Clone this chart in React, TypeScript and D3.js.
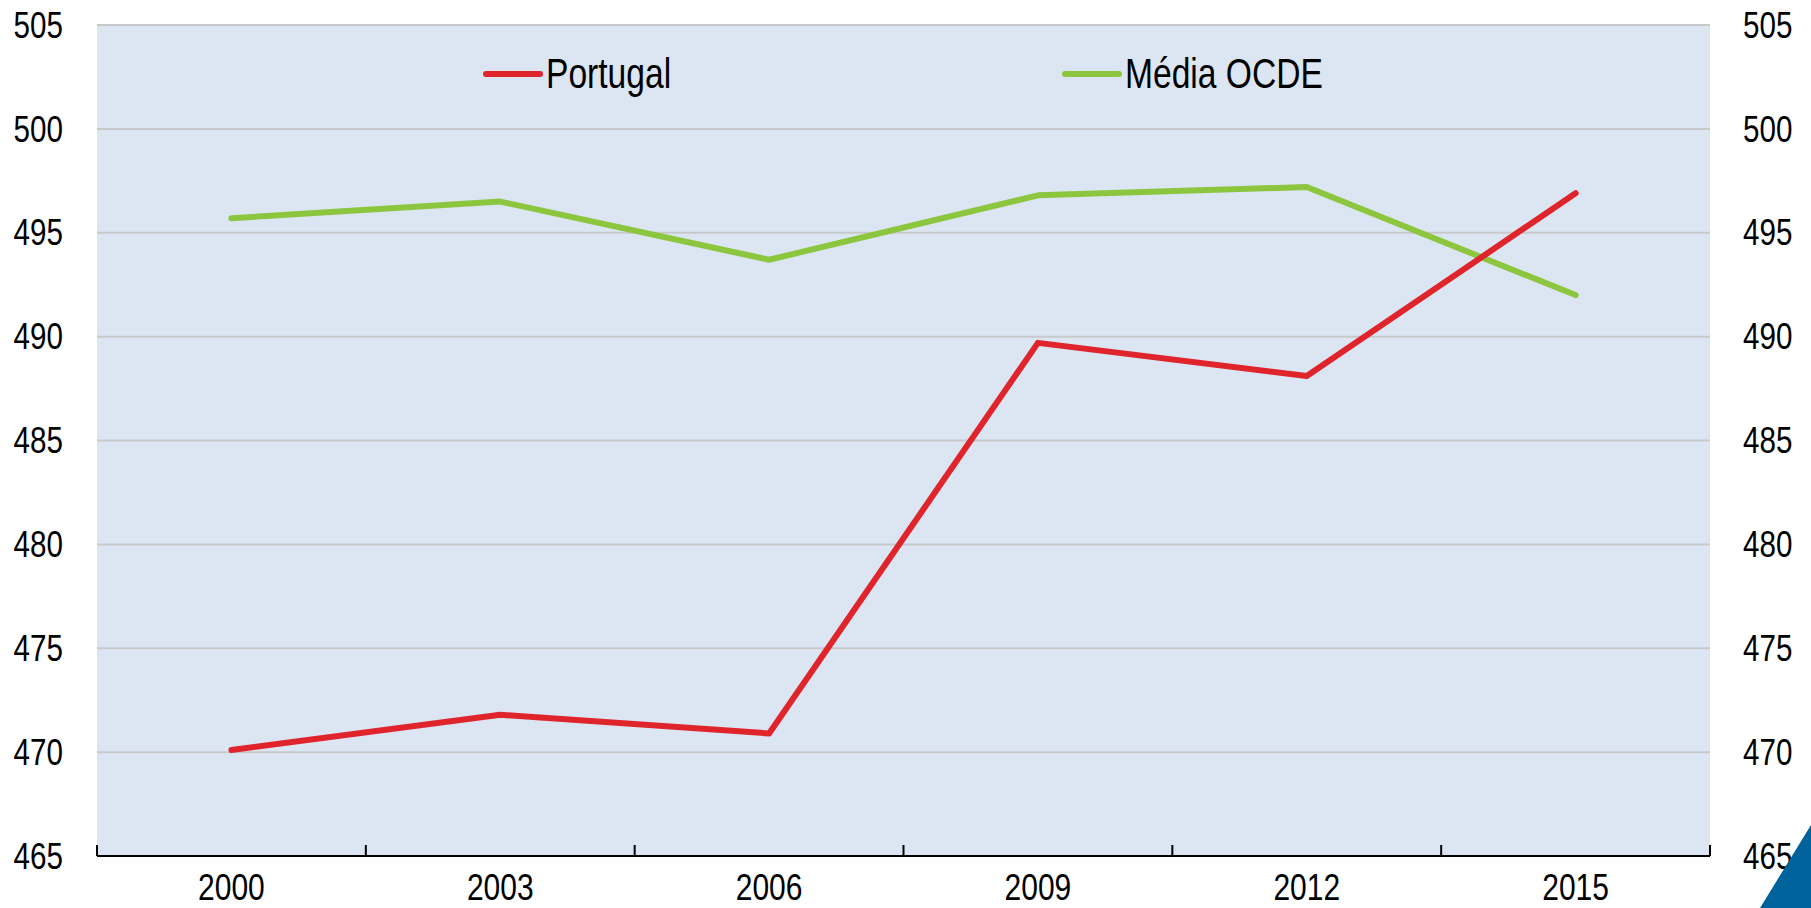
import React from "react";
import * as d3 from "d3";

// --- Data ---
const YEARS = ["2000", "2003", "2006", "2009", "2012", "2015"];
const PORTUGAL = [470.1, 471.8, 470.9, 489.7, 488.1, 496.9];
const OECD = [495.7, 496.5, 493.7, 496.8, 497.2, 492.0];
const Y_TICKS = [465, 470, 475, 480, 485, 490, 495, 500, 505];
const SERIES_NAMES = ["Portugal", "Média OCDE"];

// --- Layout ---
const W = 1811;
const H = 908;
const PLOT = { left: 97, right: 1710, top: 25, bottom: 856 };
const FONT = "'Liberation Sans', Arial, sans-serif";
const NARROW = 0.8; // no narrow font installed, so squeeze horizontally
const RED = "#e0242b";
const GREEN = "#8cc63f";

// text squeezed horizontally around its anchor point
function NText(props: {
  x: number;
  y: number;
  size: number;
  anchor?: "start" | "middle" | "end";
  baseline?: string;
  children: React.ReactNode;
}) {
  return (
    <text
      transform={`translate(${props.x},${props.y}) scale(${NARROW},1)`}
      textAnchor={props.anchor || "start"}
      dominantBaseline={props.baseline}
      fontSize={props.size}
      fill="#000"
    >
      {props.children}
    </text>
  );
}

export default function App() {
  const x = d3
    .scaleBand<string>()
    .domain(YEARS)
    .range([PLOT.left, PLOT.right])
    .paddingInner(0)
    .paddingOuter(0);
  const y = d3.scaleLinear().domain([465, 505]).range([PLOT.bottom, PLOT.top]);

  const line = d3
    .line<number>()
    .x((_, i) => (x(YEARS[i]) ?? 0) + x.bandwidth() / 2)
    .y((d) => y(d));

  // tick marks on the category boundaries
  const boundaries = d3.range(YEARS.length + 1).map((i) => PLOT.left + i * x.bandwidth());

  const legend = [
    { name: SERIES_NAMES[0], color: RED, x0: 486, tx: 546 },
    { name: SERIES_NAMES[1], color: GREEN, x0: 1065, tx: 1125 },
  ];

  return (
    <svg
      width={W}
      height={H}
      style={{ position: "absolute", left: 0, top: 0, background: "#fff" }}
      fontFamily={FONT}
    >
      {/* plot background */}
      <rect
        x={PLOT.left}
        y={PLOT.top}
        width={PLOT.right - PLOT.left}
        height={PLOT.bottom - PLOT.top}
        fill="#dce6f2"
      />

      {/* gridlines */}
      {Y_TICKS.filter((t) => t > 465).map((t) => (
        <line
          key={t}
          x1={PLOT.left}
          x2={PLOT.right}
          y1={y(t)}
          y2={y(t)}
          stroke="#c8c9cb"
          strokeWidth={2}
        />
      ))}

      {/* y labels, both sides */}
      {Y_TICKS.map((t) => (
        <g key={t}>
          <NText x={63} y={y(t)} size={37} anchor="end" baseline="central">
            {t}
          </NText>
          <NText x={1743} y={y(t)} size={37} anchor="start" baseline="central">
            {t}
          </NText>
        </g>
      ))}

      {/* x axis */}
      <line x1={PLOT.left} x2={PLOT.right} y1={PLOT.bottom} y2={PLOT.bottom} stroke="#000" strokeWidth={2} />
      {boundaries.map((bx, i) => (
        <line key={i} x1={bx} x2={bx} y1={PLOT.bottom} y2={PLOT.bottom - 11} stroke="#000" strokeWidth={2} />
      ))}
      {YEARS.map((yr) => (
        <NText key={yr} x={(x(yr) ?? 0) + x.bandwidth() / 2} y={900} size={37.5} anchor="middle">
          {yr}
        </NText>
      ))}

      {/* series */}
      <path d={line(OECD) || ""} fill="none" stroke={GREEN} strokeWidth={6} strokeLinecap="round" strokeLinejoin="round" />
      <path d={line(PORTUGAL) || ""} fill="none" stroke={RED} strokeWidth={6} strokeLinecap="round" strokeLinejoin="round" />

      {/* legend */}
      {legend.map((l) => (
        <g key={l.name}>
          <line x1={l.x0} x2={l.x0 + 54} y1={74} y2={74} stroke={l.color} strokeWidth={6} strokeLinecap="round" />
          <NText x={l.tx} y={88} size={42}>
            {l.name}
          </NText>
        </g>
      ))}

      {/* corner mark */}
      <path d={`M${W},825 L${W},${H} L1760,${H} Z`} fill="#00629b" />
    </svg>
  );
}
